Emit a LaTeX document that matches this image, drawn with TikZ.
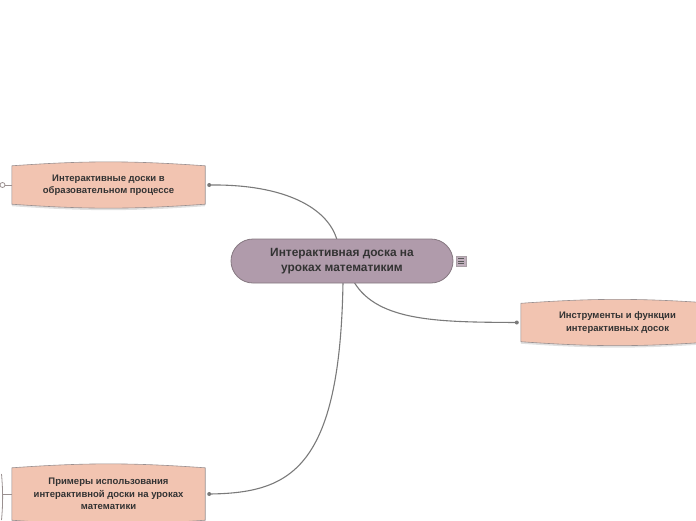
\documentclass[tikz,border=0pt]{standalone}
\usepackage{fontspec}
\setmainfont{Liberation Sans}
\usetikzlibrary{calc}
\definecolor{boxfill}{HTML}{F2C4B1}
\definecolor{boxline}{HTML}{9A9090}
\definecolor{cenfill}{HTML}{B09BAB}
\definecolor{cenline}{HTML}{857880}
\definecolor{linkc}{HTML}{7A7A7A}
\definecolor{txt}{HTML}{333333}
\tikzset{
  centralbox/.style={draw=cenline, line width=0.8pt, fill=cenfill, rounded corners=22pt,
    minimum width=222pt, minimum height=44pt, align=center, text=txt,
    font=\fontsize{11.9}{15.5}\selectfont\bfseries},
  subbox/.style={draw=none, minimum width=193pt, align=center, text=txt,
    font=\fontsize{9.5}{12.5}\selectfont\bfseries},
  barrel/.style={fill=boxfill, draw=boxline, line width=0.6pt},
  shade/.style={fill=black!12, draw=none},
  link/.style={draw=linkc, line width=1.1pt},
  dot/.style={circle, fill=linkc, inner sep=0pt, minimum size=4pt}
}
\begin{document}
\begin{tikzpicture}[x=1pt,y=-1pt]
\useasboundingbox (0,0) rectangle (696,520);

% node frames (text set afterwards on top of the shapes)
\node[subbox, minimum height=38pt] (b1) at (108.5,185) {};
\node[subbox, minimum height=52pt] (b2) at (108.5,494) {};
\node[subbox, minimum height=38pt] (b3) at (617.5,322.5) {};

% barrel shapes
\foreach \n in {b1,b2,b3}{
  \path[shade] ($(\n.north west)+(0,2)$) to[bend left=4] ($(\n.north east)+(0,2)$) -- ($(\n.south east)+(0,2)$) to[bend left=4] ($(\n.south west)+(0,2)$) -- cycle;
  \path[barrel] (\n.north west) to[bend left=4] (\n.north east) -- (\n.south east) to[bend left=4] (\n.south west) -- cycle;
}
\node[subbox] (t1) at (b1) {Интерактивные доски в\\образовательном процессе};
\node[subbox] (t2) at (b2) {Примеры использования\\интерактивной доски на уроках\\математики};
\node[subbox] (t3) at (b3) {Инструменты и функции\\интерактивных досок};

\coordinate (d1) at ($(b1.east)+(4,0)$);
\coordinate (d2) at ($(b2.east)+(4,0)$);
\coordinate (d3) at ($(b3.west)+(-4,0)$);

\coordinate (c1) at (337,240);
\coordinate (c2) at (343,282);
\coordinate (c3) at (354,282);

\draw[link] (d1) .. controls (285,184) and (328,208) .. (c1);
\draw[link] (d2) .. controls (290,493) and (340,470) .. (c2);
\draw[link] (d3) .. controls (440,322) and (378,322) .. (c3);

\node[centralbox] (c) at (342,261) {Интерактивная доска на\\уроках математиким};

\node[dot] at (d1) {};
\node[dot] at (d2) {};
\node[dot] at (d3) {};

% left stubs
\coordinate (l1) at (3.5,185);
\draw[draw=boxline, line width=0.8pt] (b1.west) -- (l1);
\draw[draw=boxline, line width=0.8pt, fill=white] (l1) ++(-1,0) circle (2.5pt);
\coordinate (l2) at (2,494);
\draw[draw=boxline, line width=0.8pt] (b2.west) -- (l2);
\draw[draw=boxline, line width=0.8pt] (1.5,474) .. controls (3,490) and (3,505) .. (1.5,520);

% icon
\node[draw=cenline!70, fill=cenfill!80, line width=0.5pt, minimum size=10pt, inner sep=0pt] (ic) at (461,261) {};
\foreach \dy in {-2.3,0,2.3}{
  \draw[line width=0.9pt, draw=black!65] ($(ic.center)+(-2.8,\dy)$) -- ($(ic.center)+(2.8,\dy)$);
}
\end{tikzpicture}
\end{document}
